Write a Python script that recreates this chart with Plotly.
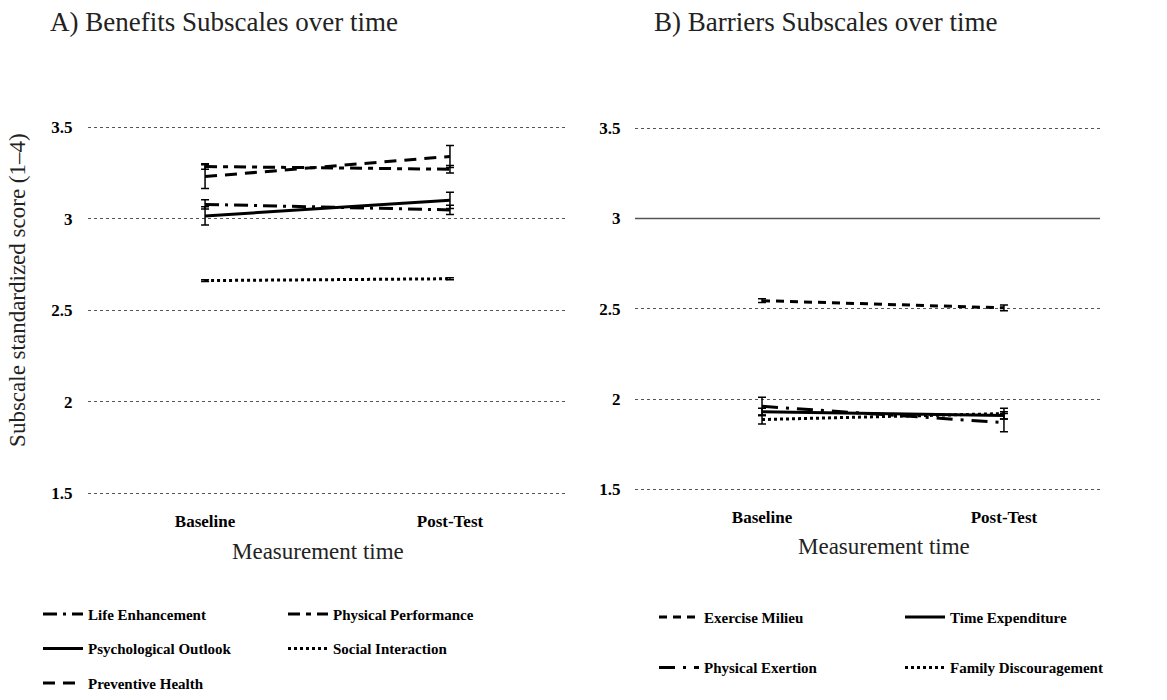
import plotly.graph_objects as go

# Measurement occasions
timepoints = ["Baseline", "Post-Test"]

# A) Benefits subscales: mean scores and error-bar half widths
benefit_names = ["Life Enhancement", "Psychological Outlook", "Preventive Health",
                 "Physical Performance", "Social Interaction"]
life_enhancement = [3.078, 3.048]
life_enhancement_err = [0.025, 0.025]
psychological_outlook = [3.015, 3.100]
psychological_outlook_err = [0.050, 0.045]
preventive_health = [3.230, 3.340]
preventive_health_err = [0.065, 0.060]
physical_performance = [3.285, 3.270]
physical_performance_err = [0.015, 0.020]
social_interaction = [2.662, 2.672]
social_interaction_err = [0.005, 0.005]

# B) Barriers subscales: mean scores and error-bar half widths
barrier_names = ["Exercise Milieu", "Physical Exertion", "Time Expenditure",
                 "Family Discouragement"]
exercise_milieu = [2.545, 2.505]
exercise_milieu_err = [0.010, 0.016]
physical_exertion = [1.960, 1.870]
physical_exertion_err = [0.050, 0.050]
time_expenditure = [1.930, 1.910]
time_expenditure_err = [0.020, 0.020]
family_discouragement = [1.887, 1.920]
family_discouragement_err = [0.025, 0.030]

y_ticks = [1.5, 2, 2.5, 3, 3.5]
y_ticktext = ["1.5", "2", "2.5", "3", "3.5"]

W, H = 1167, 700
SERIF = "Liberation Serif"


def px_x(p):
    return p / W


def px_y(p):
    return 1 - p / H


fig = go.Figure()


def add_series(name, vals, errs, dash, xa, ya, legend, width=3):
    fig.add_trace(go.Scatter(
        x=timepoints, y=vals, name=name, mode="lines",
        line=dict(color="black", width=width, dash=dash),
        error_y=dict(type="data", array=errs, visible=True,
                     color="black", thickness=1.5, width=4),
        xaxis=xa, yaxis=ya, legend=legend, legendgroup=name,
        hoverinfo="skip",
    ))


# Benefits panel
add_series(benefit_names[0], life_enhancement, life_enhancement_err,
           "14px,6px,3px,6px", "x", "y", "legend")
add_series(benefit_names[1], psychological_outlook, psychological_outlook_err,
           "solid", "x", "y", "legend")
add_series(benefit_names[2], preventive_health, preventive_health_err,
           "12px,8px", "x", "y", "legend")
add_series(benefit_names[3], physical_performance, physical_performance_err,
           "12px,6px,5px,6px", "x", "y", "legend2")
add_series(benefit_names[4], social_interaction, social_interaction_err,
           "3px,3px", "x", "y", "legend2")

# Barriers panel
add_series(barrier_names[0], exercise_milieu, exercise_milieu_err,
           "8px,6px", "x2", "y2", "legend3")
add_series(barrier_names[1], physical_exertion, physical_exertion_err,
           "16px,8px,3px,8px", "x2", "y2", "legend3")
add_series(barrier_names[2], time_expenditure, time_expenditure_err,
           "solid", "x2", "y2", "legend4")
add_series(barrier_names[3], family_discouragement, family_discouragement_err,
           "3px,3px", "x2", "y2", "legend4")

tick_font = dict(family=SERIF, size=17, color="black", weight="bold")
legend_font = dict(family=SERIF, size=15, color="black", weight="bold")

common_x = dict(type="category", showgrid=False, zeroline=False, showline=False,
                ticks="outside", ticklen=3, tickcolor="rgba(0,0,0,0)",
                tickfont=tick_font, fixedrange=True)
common_y = dict(range=[1.45, 3.55], tickvals=y_ticks, ticktext=y_ticktext,
                showgrid=True, gridcolor="#555", griddash="dot", gridwidth=1,
                zeroline=False, showline=False, ticks="outside",
                tickcolor="rgba(0,0,0,0)", tickfont=tick_font, fixedrange=True)


def legend_box(x_px, y_px, gap):
    return dict(x=px_x(x_px), y=px_y(y_px), xanchor="left", yanchor="top",
                bgcolor="rgba(0,0,0,0)", font=legend_font, itemwidth=40,
                tracegroupgap=gap, orientation="v", traceorder="grouped")


fig.update_layout(
    width=W, height=H,
    margin=dict(l=0, r=0, t=0, b=0),
    paper_bgcolor="white", plot_bgcolor="white",
    xaxis=dict(common_x, domain=[px_x(88), px_x(568)],
               range=[-0.478, 1.482], anchor="y"),
    yaxis=dict(common_y, domain=[px_y(506.2), px_y(118.8)], anchor="x",
               ticklen=11),
    xaxis2=dict(common_x, domain=[px_x(635), px_x(1100)],
                range=[-0.525, 1.397], anchor="y2"),
    yaxis2=dict(common_y, domain=[px_y(502.1), px_y(119.9)], anchor="x2",
                ticklen=10),
    showlegend=True,
    legend=legend_box(38, 602, 12),
    legend2=legend_box(283, 602, 12),
    legend3=legend_box(654, 605, 28),
    legend4=legend_box(900, 605, 28),
    shapes=[dict(type="line", xref="x2 domain", yref="y2", x0=0, x1=1,
                 y0=3, y1=3, line=dict(color="#555", width=1.5))],
    annotations=[
        dict(text="A) Benefits Subscales over time", x=px_x(48), y=px_y(22),
             xref="paper", yref="paper", xanchor="left", yanchor="middle",
             showarrow=False, font=dict(family=SERIF, size=27, color="#222")),
        dict(text="B) Barriers Subscales over time", x=px_x(652), y=px_y(22),
             xref="paper", yref="paper", xanchor="left", yanchor="middle",
             showarrow=False, font=dict(family=SERIF, size=27, color="#222")),
        dict(text="Subscale standardized score (1\u20134)", x=px_x(18),
             y=px_y(292), xref="paper", yref="paper", textangle=-90,
             xanchor="center", yanchor="middle", showarrow=False,
             font=dict(family=SERIF, size=23, color="#222")),
        dict(text="Measurement time", x=px_x(318), y=px_y(555),
             xref="paper", yref="paper", xanchor="center", yanchor="middle",
             showarrow=False, font=dict(family=SERIF, size=23, color="#222")),
        dict(text="Measurement time", x=px_x(884), y=px_y(550),
             xref="paper", yref="paper", xanchor="center", yanchor="middle",
             showarrow=False, font=dict(family=SERIF, size=23, color="#222")),
    ],
)

fig.write_html("out.html")
